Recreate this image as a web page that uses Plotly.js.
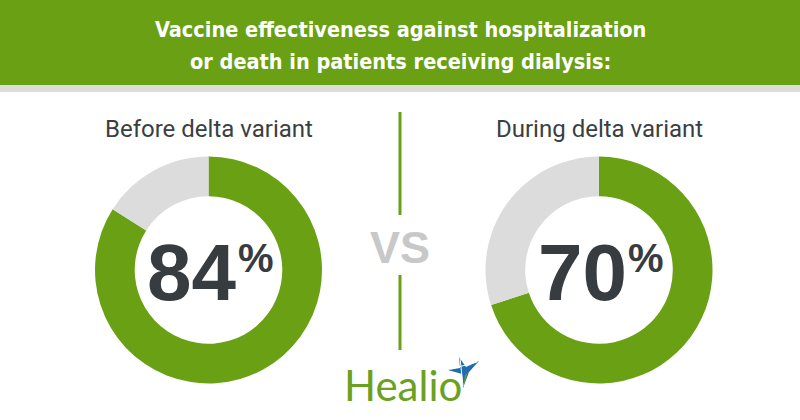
<!DOCTYPE html>
<html>
<head>
<meta charset="utf-8">
<script src="https://cdn.plot.ly/plotly-3.0.1.min.js"></script>
<style>html,body{margin:0;padding:0;background:#fff;}#chart{width:800px;height:420px;}</style>
</head>
<body>
<div id="chart"></div>
<script>
var titleLines = ["Vaccine effectiveness against hospitalization", "or death in patients receiving dialysis:"];
var periods = ["Before delta variant", "During delta variant"];
var effectiveness = [84, 70];
var sliceLabels = ["Effective", "Not effective"];
var vsLabel = "VS";
var brand = "Healio";

var W = 800, H = 420;
var GREEN = "#6aa013", GRAY = "#dcdcdc", DARK = "#363c3f";
function px(x){ return x / W; }
function py(y){ return 1 - y / H; }

var centers = [[208.5, 270], [599, 270]];
var R = 113.5;

var traces = effectiveness.map(function(v, i){
  var c = centers[i];
  return {
    type: "pie",
    values: [v, 100 - v],
    labels: sliceLabels,
    sort: false,
    direction: "clockwise",
    rotation: 0,
    hole: 0.65,
    textinfo: "none",
    hoverinfo: "skip",
    showlegend: false,
    marker: {colors: [GREEN, GRAY], line: {width: 0}},
    domain: {x: [px(c[0] - R), px(c[0] + R)], y: [py(c[1] + R), py(c[1] - R)]}
  };
});

var annotations = [];
var titleY = [30, 61];
titleLines.forEach(function(t, i){
  annotations.push({
    xref: "paper", yref: "paper", x: 0.5, y: py(titleY[i]), xanchor: "center", yanchor: "middle",
    text: t, showarrow: false, align: "center",
    font: {family: "Liberation Sans Narrow, DejaVu Sans Condensed, sans-serif", size: 21.5, color: "#ffffff", weight: 700}
  });
});
periods.forEach(function(p, i){
  var c = centers[i];
  annotations.push({
    xref: "paper", yref: "paper", x: px(c[0]), y: py(129), xanchor: "center", yanchor: "middle",
    text: p, showarrow: false,
    font: {family: "Roboto, sans-serif", size: 24, color: "#3a3f42"}
  });
  annotations.push({
    xref: "paper", yref: "paper", x: px(c[0] + 30), y: py(272), xanchor: "right", yanchor: "middle",
    text: String(effectiveness[i]), showarrow: false,
    font: {family: "Liberation Sans, Arial, sans-serif", size: 80, color: DARK, weight: 700}
  });
  annotations.push({
    xref: "paper", yref: "paper", x: px(c[0] + 27), y: py(258), xanchor: "left", yanchor: "middle",
    text: "%", showarrow: false,
    font: {family: "Liberation Sans, Arial, sans-serif", size: 40, color: DARK, weight: 700}
  });
});
annotations.push({
  xref: "paper", yref: "paper", x: 0.5, y: py(247), xanchor: "center", yanchor: "middle",
  text: vsLabel, showarrow: false,
  font: {family: "Liberation Sans, Arial, sans-serif", size: 45, color: "#c8c8c8", weight: 700}
});
annotations.push({
  xref: "paper", yref: "paper", x: px(342), y: py(385), xanchor: "left", yanchor: "middle",
  text: brand, showarrow: false,
  font: {family: "Lato, Open Sans, sans-serif", size: 42, color: "#6aa121"}
});

var shapes = [
  {type: "rect", xref: "paper", yref: "paper", x0: 0, x1: 1, y0: py(85), y1: 1, fillcolor: GREEN, line: {width: 0}, layer: "below"},
  {type: "rect", xref: "paper", yref: "paper", x0: 0, x1: 1, y0: py(92), y1: py(85), fillcolor: GRAY, line: {width: 0}, layer: "below"},
  {type: "line", xref: "paper", yref: "paper", x0: px(400), x1: px(400), y0: py(112), y1: py(215), line: {color: "#6aa013", width: 3}},
  {type: "line", xref: "paper", yref: "paper", x0: px(400), x1: px(400), y0: py(275), y1: py(350), line: {color: "#6aa013", width: 3}}
];
// Healio star mark (decorative logo)
function pathFrom(pts){
  return "M" + pts.map(function(p){ return px(p[0]) + "," + py(p[1]); }).join(" L") + " Z";
}
shapes.push({type: "path", xref: "paper", yref: "paper",
  path: pathFrom([[459,357],[466,367],[479,361],[469,372],[463,388],[462,374],[448,370],[460,368]]),
  fillcolor: "#1f6cae", line: {width: 0}});
shapes.push({type: "path", xref: "paper", yref: "paper",
  path: pathFrom([[463,388],[467,374],[471,370],[465,375]]),
  fillcolor: "#6aa121", line: {width: 0}});
shapes.push({type: "line", xref: "paper", yref: "paper", x0: px(451), y0: py(369), x1: px(477), y1: py(362), line: {color: "#ffffff", width: 1}});
shapes.push({type: "line", xref: "paper", yref: "paper", x0: px(460), y0: py(358), x1: px(463), y1: py(386), line: {color: "#ffffff", width: 1}});

var layout = {
  width: W, height: H,
  margin: {l: 0, r: 0, t: 0, b: 0},
  paper_bgcolor: "#ffffff",
  showlegend: false,
  annotations: annotations,
  shapes: shapes
};
Plotly.newPlot("chart", traces, layout, {displayModeBar: false, staticPlot: true});
</script>
</body>
</html>
